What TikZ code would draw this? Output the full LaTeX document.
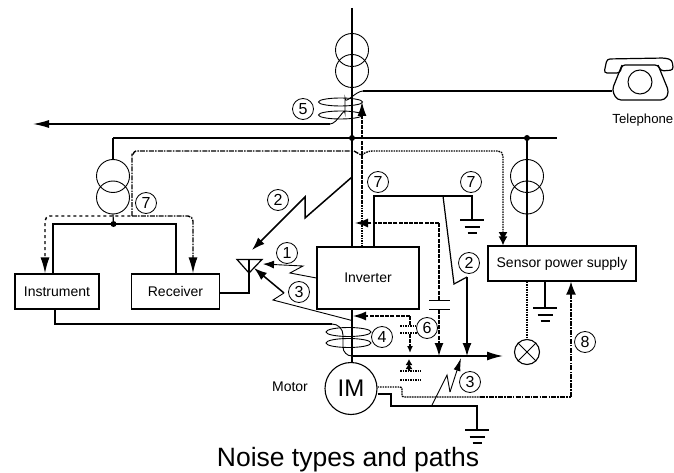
\documentclass[tikz,border=0pt]{standalone}
\usepackage{fontspec}
\setmainfont{Liberation Sans}
\usetikzlibrary{arrows.meta}

\newcommand*{\earth}[2]{
	\draw[busline] (#1-12,#2) -- (#1+12,#2);
	\draw[busline] (#1-7.5,#2+7) -- (#1+7.5,#2+7);
	\draw[busline] (#1-4.5,#2+13) -- (#1+4.5,#2+13);
}

\begin{document}
\begin{tikzpicture}
[
	x=1pt,y=-1pt,
	wire/.style={line width=0.9pt},
	midline/.style={line width=1.2pt},
	busline/.style={line width=1.5pt},
	dashline/.style={line width=1.4pt,dash pattern=on 4pt off 1.2pt},
	dashdotline/.style={line width=1.4pt,dash pattern=on 5pt off 1.2pt on 1.5pt off 1.2pt},
	dotline/.style={line width=1.4pt,dash pattern=on 1.6pt off 0.9pt},
	bigtip/.style={-{Latex[length=13pt,width=9pt]}},
	smalltip/.style={-{Latex[length=7pt,width=6pt]}},
	winding/.style={circle,draw,line width=0.9pt,inner sep=0pt,minimum size=33pt},
	junction/.style={circle,fill,inner sep=0pt,minimum size=6pt},
	numlabel/.style={circle,draw,line width=0.8pt,inner sep=0pt,minimum size=21pt,font=\fontsize{16}{16}\selectfont},
	devbox/.style={rectangle,draw,line width=1.2pt,fill=white,inner sep=0pt,font=\fontsize{14}{14}\selectfont},
	caption/.style={font=\fontsize{14}{14}\selectfont,inner sep=0pt}
]

	\useasboundingbox (0,0) rectangle (674,473);

	% main feeder
	\coordinate (feedtop) at (352,8);
	\coordinate (busmain) at (352,138);
	\coordinate (busleft) at (113,138);
	\coordinate (busright) at (557,138);
	\coordinate (busaux) at (527,138);

	\draw[busline] (feedtop) -- (352,362);
	\draw[midline] (busleft) -- (busright);
	\draw[midline] (busleft) -- (113,160);
	\draw[busline] (busaux) -- (527,247);
	\node[junction] (dotmain) at (busmain) {};
	\node[junction] (dotaux) at (busaux) {};

	% transformers
	\node[winding] (topa) at (352,50) {};
	\node[winding] (topb) at (352,71) {};
	\node[winding] (lefta) at (113,176) {};
	\node[winding] (leftb) at (113,197.5) {};
	\node[winding] (righta) at (527,176) {};
	\node[winding] (rightb) at (527,197.5) {};

	% boxes
	\node[devbox,minimum width=84pt,minimum height=35pt] (instr) at (57,291.5) {Instrument};
	\node[devbox,minimum width=88pt,minimum height=35pt] (recv) at (175.5,291.5) {Receiver};
	\node[devbox,minimum width=102pt,minimum height=62pt] (inv) at (368,278) {\raisebox{-2.5pt}{Inverter}};
	\node[devbox,minimum width=148pt,minimum height=35pt] (sensor) at (562,263.5) {Sensor power supply};
	\node[circle,draw,line width=1.1pt,fill=white,inner sep=0pt,minimum size=52pt,font=\fontsize{24}{24}\selectfont] (motor) at (351,388.5) {IM};
	\node[circle,draw,line width=1.1pt,inner sep=0pt,minimum size=25pt] (lamp) at (527,352) {};
	\draw[wire] (lamp.north west) -- (lamp.south east);
	\draw[wire] (lamp.north east) -- (lamp.south west);

	% left transformer secondary
	\node[junction] (dotleft) at (113.5,224) {};
	\draw[midline] (leftb.south) -- (dotleft);
	\draw[midline] (53,274) -- (53,224) -- (176,224) -- (176,274);

	% telephone line and coupling
	\draw[busline] (612,91) -- (363,91);
	\draw[wire] (363,91) to[out=180,in=-90] (345,98) -- (345,113) to[out=90,in=0] (330,124);
	\draw[midline,-{Latex[length=16pt,width=8pt]}] (330,124) -- (33,124);
	\draw[wire] (340.5,102) ellipse (22 and 4);
	\draw[wire] (340.5,115) ellipse (22 and 4);

	% instrument line and coupling
	\draw[midline] (instr.south -| 55,0) -- (55,324) -- (332,324);
	\draw[wire] (332,324) to[out=0,in=90] (343,335) -- (343,347) to[out=-90,in=180] (352,356);
	\draw[wire] (348.5,332) ellipse (22.5 and 4.5);
	\draw[wire] (348.5,343) ellipse (22.5 and 4.5);

	% motor line
	\draw[busline,-{Latex[length=16pt,width=9pt]}] (352,356) -- (503,356);

	% induced paths
	\draw[dashdotline] (132,216) -- (132,155) to[out=-90,in=180] (136,151) -- (352,151);
	\draw[dashdotline] (354,151) -- (361,155);
	\draw[dashed,line width=1.4pt,rounded corners=5pt] (45,262) -- (45,216) -- (132,216);
	\draw[dashdotline,rounded corners=5pt] (132,216) -- (193,216) -- (193,262);
	\draw[dashed,line width=1.4pt,-{Latex[length=16pt,width=9pt]}] (45,258) -- (instr.north -| 45,0);
	\draw[dashdotline,-{Latex[length=16pt,width=9pt]}] (193,258) -- (recv.north -| 193,0);
	\draw[dotline,rounded corners=5pt] (362,155) -- (367,151) -- (503,151) -- (503,236);
	\draw[line width=1.4pt,-{Latex[length=9pt,width=9pt]}] (503,232) -- (503,241);
	\draw[line width=1.4pt,-{Latex[length=9pt,width=9pt]}] (503,237) -- (sensor.north -| 503,0);
	\draw[dotline] (362,155) -- (inv.north -| 362,0);
	\draw[dashline,-{Latex[length=14pt,width=9pt]}] (362,155) -- (362,102);

	% inverter earth and noise 2
	\draw[midline] (inv.north -| 374,0) -- (374,196) -- (472,196) -- (472,220);
	\earth{472}{220}
	\draw[midline] (443,196) -- (454,284) -- (467,277);
	\draw[midline,-{Latex[length=13pt,width=9pt]}] (467,277) -- (467,356);
	\draw[dashline,bigtip] (439,223) -- (355,223);
	\draw[dashline] (439,223) -- (439,300.5);
	\draw[dashline,bigtip] (439,309.5) -- (439,356);
	\draw[busline] (429,300.5) -- (450,300.5);
	\draw[busline] (429,309.5) -- (450,309.5);

	% antenna
	\draw[midline] (237,259.5) -- (262,259.5) -- (249,273) -- cycle;
	\draw[midline] (249,259.5) -- (249,293) -- (recv.east |- 249,293);

	% radiated noise
	\draw[busline,bigtip] (352,177) -- (305,218) -- (305,197) -- (252,250);
	\draw[wire,{Latex[length=11pt,width=8pt]}-] (263,264) -- (303,266) -- (290,273) -- (inv.west |- 0,278);
	\draw[wire] (352,320.5) -- (273,300) -- (284,293);
	\draw[busline,bigtip] (284,293) -- (254,268);
	\draw[wire] (432,405) -- (447,375) -- (450,392);
	\draw[wire,-{Latex[length=13pt,width=7pt]}] (450,392) -- (461,358);

	% stray capacitance of motor
	\draw[dashline,bigtip] (410,316) -- (353,316);
	\draw[dashline] (410,316) -- (410,326);
	\draw[dashline,smalltip] (410,334) -- (410,353);
	\draw[dotline] (400,326) -- (416,326);
	\draw[dotline] (400,333) -- (420,333);
	\draw[dotline] (400,371) -- (421,371);
	\draw[dotline] (400,380) -- (421,380);
	\draw[line width=1.4pt,-{Latex[length=6pt,width=7pt]}] (409,365) -- (409,359);
	\draw[line width=1.4pt,-{Latex[length=6pt,width=7pt]}] (409,371) -- (409,363);

	% motor earth and noise 8
	\draw[midline] (378,394) -- (391,394) -- (391,406) -- (477,406) -- (477,430);
	\earth{477}{430}
	\draw[dotline,rounded corners=2pt] (motor.east |- 0,387) -- (402,387) -- (402,397) -- (480,397);
	\draw[dashdotline] (480,397) -- (571,397);
	\draw[dashdotline,-{Latex[length=13pt,width=10pt]}] (571,397) -- (sensor.south -| 571,0);

	% sensor side
	\draw[dotline] (sensor.south -| 527,0) -- (lamp.north);
	\draw[busline] (sensor.south -| 545,0) -- (545,308);
	\earth{545}{308}

	% telephone
	\node[circle,draw,line width=1pt,inner sep=0pt,minimum size=24pt] (dial) at (640,82) {};
	\draw[midline,rounded corners=3pt] (604,73) -- (607,59) -- (665,58) -- (672,60) -- (673.4,70) -- (661,71) -- (658,65) -- (622,65) -- (620,73) -- cycle;
	\draw[midline,rounded corners=4pt] (622,65) -- (612,90) -- (617,100) -- (665,100) -- (669,92) -- (658,65);

	% numbered labels
	\node[numlabel] (nfive) at (303,109) {5};
	\node[numlabel] (nseven) at (146,203) {7};
	\node[numlabel] (ntwo) at (278,200) {2};
	\node[numlabel] (nsevenb) at (378,182) {7};
	\node[numlabel] (nsevenc) at (471,182) {7};
	\node[numlabel] (none) at (287,253) {1};
	\node[numlabel] (nthree) at (299,292) {3};
	\node[numlabel,fill=white] (ntwob) at (469,263) {2};
	\node[numlabel,fill=white] (nsix) at (427,328) {6};
	\node[numlabel] (nfour) at (382,337) {4};
	\node[numlabel] (nthreeb) at (470,382) {3};
	\node[numlabel] (neight) at (585,342) {8};

	% captions
	\node[caption,anchor=east,font=\fontsize{13.2}{13.2}\selectfont] (tellabel) at (673.5,120) {Telephone};
	\node[caption] (motorlabel) at (290,386.5) {Motor};
	\node[font=\fontsize{26.5}{26.5}\selectfont,inner sep=0pt] (title) at (348,460) {Noise types and paths};

\end{tikzpicture}
\end{document}
